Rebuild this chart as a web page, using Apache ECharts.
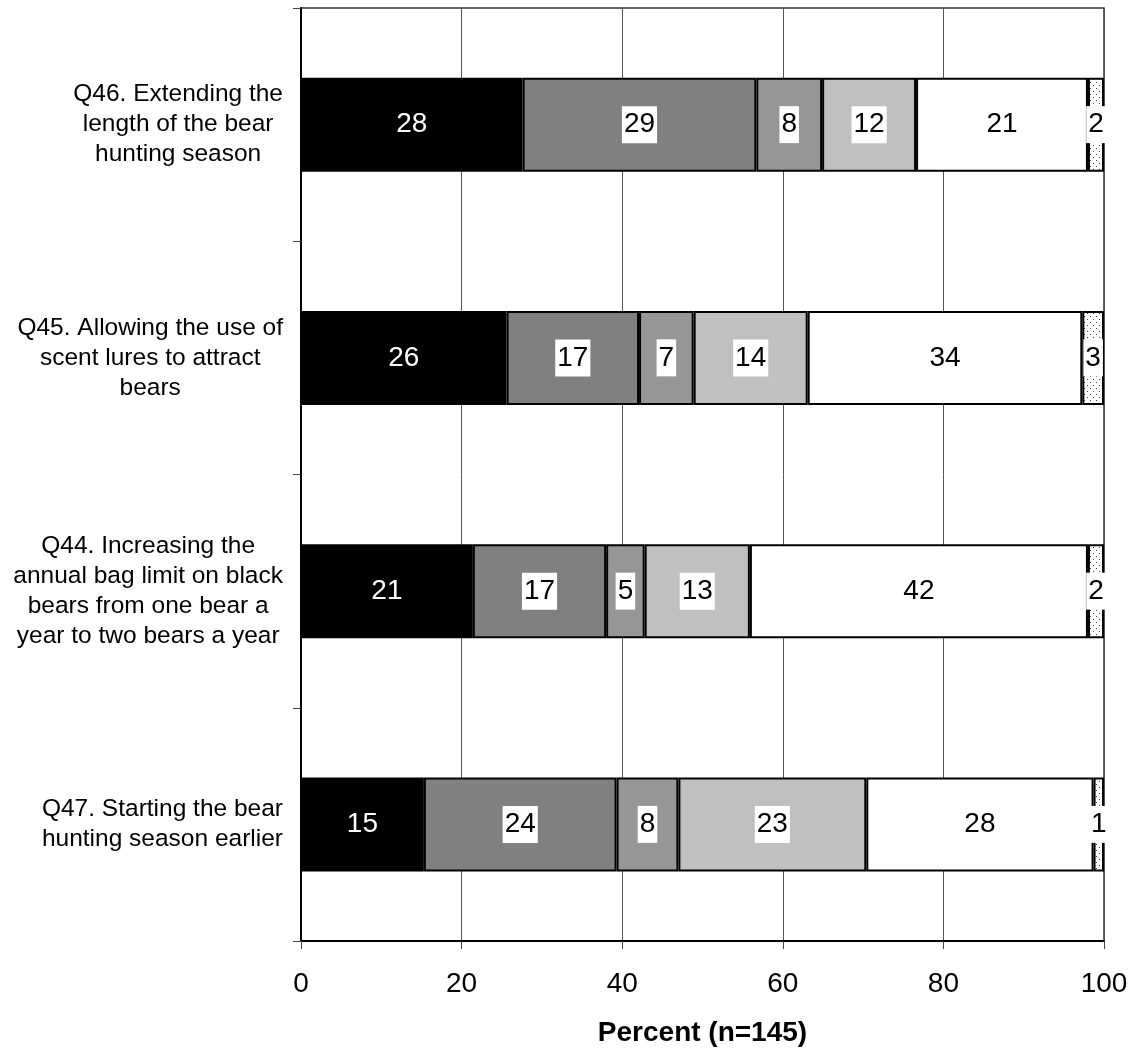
<!DOCTYPE html>
<html>
<head>
<meta charset="utf-8">
<script src="https://cdn.jsdelivr.net/npm/echarts@6/dist/echarts.min.js"></script>
<style>
html,body{margin:0;padding:0;background:#fff;}
#chart{width:1136px;height:1053px;}
</style>
</head>
<body>
<div id="chart"></div>
<script>
// Categories (top to bottom)
const categories = [
  'Q46. Extending the\nlength of the bear\nhunting season',
  'Q45. Allowing the use of\nscent lures to attract\nbears',
  'Q44. Increasing the\nannual bag limit on black\nbears from one bear a\nyear to two bears a year',
  'Q47. Starting the bear\nhunting season earlier'
];
// Segment values (percent)
const strongSupport   = [27.6, 25.6, 21.4, 15.3];
const moderateSupport = [29.1, 16.5, 16.6, 24.0];
const neutral         = [8.2, 6.8, 4.8, 7.7];
const moderateOppose  = [11.7, 14.2, 13.1, 23.4];
const strongOppose    = [21.4, 34.2, 42.1, 28.3];
const dontKnow        = [2.0, 2.7, 2.0, 1.3];
const xTicks = [0, 20, 40, 60, 80, 100];
const xTitle = 'Percent (n=145)';

const FONT = '"Liberation Sans", Arial, Helvetica, sans-serif';

// dotted pattern
const pc = document.createElement('canvas');
pc.width = 6; pc.height = 6;
const pctx = pc.getContext('2d');
pctx.fillStyle = '#fff'; pctx.fillRect(0, 0, 6, 6);
pctx.fillStyle = '#444';
pctx.fillRect(1, 1, 1, 1);
pctx.fillRect(4, 4, 1, 1);

const chart = echarts.init(document.getElementById('chart'), null, {renderer: 'canvas'});

function mkSeries(name, data, color, labelOpts) {
  return {
    name: name,
    type: 'bar',
    stack: 'total',
    data: data,
    barWidth: 94,
    itemStyle: {color: color, borderColor: '#000', borderWidth: 2},
    label: Object.assign({
      show: true,
      position: 'inside',
      fontFamily: FONT,
      fontSize: 28,
      lineHeight: 31,
      formatter: p => String(Math.round(p.value))
    }, labelOpts),
    emphasis: {disabled: true},
    animation: false
  };
}
const boxed = {color: '#000', backgroundColor: '#fff', padding: [3, 2]};

chart.setOption({
  animation: false,
  grid: {left: 301, right: 32, top: 8, bottom: 112, show: true, borderColor: '#333', borderWidth: 1.5, backgroundColor: 'transparent'},
  xAxis: {
    type: 'value',
    min: 0, max: 100, interval: 20,
    name: xTitle,
    nameLocation: 'middle',
    nameGap: 78,
    nameTextStyle: {fontFamily: FONT, fontSize: 28, fontWeight: 'bold', color: '#000'},
    axisLine: {show: true, lineStyle: {color: '#000', width: 2}},
    axisTick: {show: true, length: 8, lineStyle: {color: '#444', width: 1}},
    axisLabel: {fontFamily: FONT, fontSize: 28, color: '#000', margin: 29,
      formatter: v => xTicks.indexOf(v) >= 0 ? String(v) : ''},
    splitLine: {show: true, lineStyle: {color: '#555', width: 1}}
  },
  yAxis: {
    type: 'category',
    inverse: true,
    data: categories,
    axisLine: {show: true, lineStyle: {color: '#000', width: 2}},
    axisTick: {show: true, length: 8, interval: 0, lineStyle: {color: '#444', width: 1}},
    axisLabel: {
      margin: 18,
      interval: 0,
      formatter: v => v.split('\n').map(l => '{c|' + l + '}').join('\n'),
      rich: {c: {align: 'center', fontFamily: FONT, fontSize: 24.5, lineHeight: 30, color: '#000'}}
    },
    splitLine: {show: false}
  },
  series: [
    mkSeries('Strongly support', strongSupport, '#000000', {color: '#fff'}),
    mkSeries('Moderately support', moderateSupport, '#808080', boxed),
    mkSeries('Neither', neutral, '#969696', boxed),
    mkSeries('Moderately oppose', moderateOppose, '#c0c0c0', boxed),
    mkSeries('Strongly oppose', strongOppose, '#ffffff', {color: '#000'}),
    mkSeries("Don't know", dontKnow, {image: pc, repeat: 'repeat'}, boxed)
  ]
});
</script>
</body>
</html>
